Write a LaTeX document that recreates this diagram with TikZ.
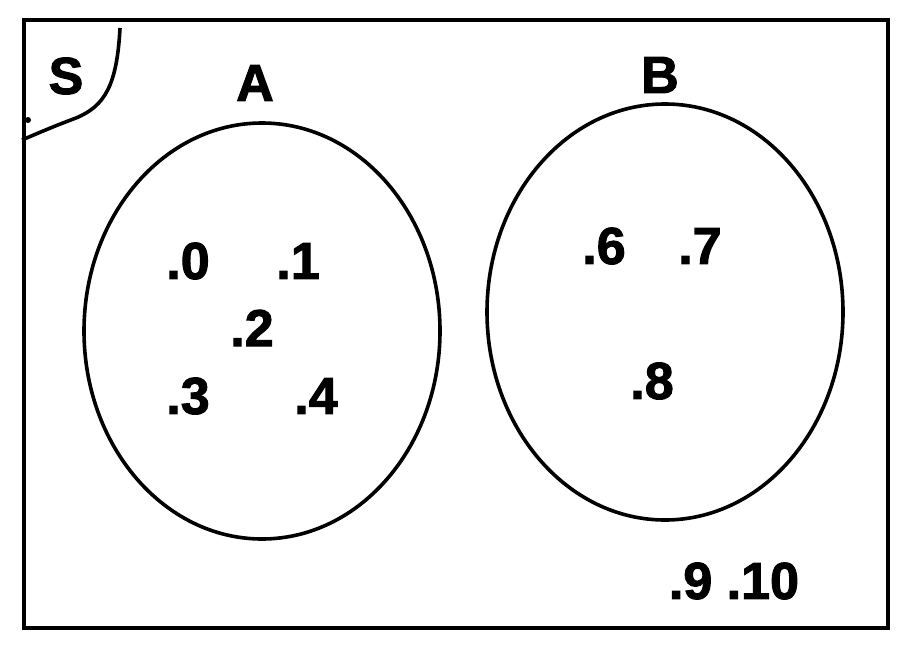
\documentclass[tikz,border=0pt]{standalone}
\usepackage{fontspec}
\setmainfont{Liberation Sans}[BoldFeatures={FakeBold=2}]
\usepackage{tikz}
\tikzset{
	elem/.style={font=\fontsize{52}{56}\selectfont\bfseries, inner sep=0pt},
	setline/.style={line width=3.6pt}
}

\begin{document}
\begin{tikzpicture}[x=1pt,y=-1pt]
	\useasboundingbox (0,0) rectangle (913,653);
	\draw[line width=4.6pt] (24,20) rectangle (888,628);
	% universe corner
	\draw[setline] (120,28) .. controls (117,85) and (105,106) .. (76,118) .. controls (52,127) and (36,134) .. (22,140);
	\fill (28,120) circle (3);
	\node[elem] (S) at (66,76) {S};
	% set A
	\draw[setline] (262,331) ellipse [x radius=178, y radius=208];
	\node[elem] (A) at (255,83) {A};
	\node[elem] (n0) at (188,261) {.0};
	\node[elem] (n1) at (298,261) {.1};
	\node[elem] (n2) at (252,328) {.2};
	\node[elem] (n3) at (188,396) {.3};
	\node[elem] (n4) at (316,396) {.4};
	% set B
	\draw[setline] (665,312) ellipse [x radius=178, y radius=208];
	\node[elem] (B) at (660,75) {B};
	\node[elem] (n6) at (604,246) {.6};
	\node[elem] (n7) at (700,246) {.7};
	\node[elem] (n8) at (652,381) {.8};
	% outside
	\node[elem] (n9) at (734,581) {.9 .10};
\end{tikzpicture}
\end{document}
